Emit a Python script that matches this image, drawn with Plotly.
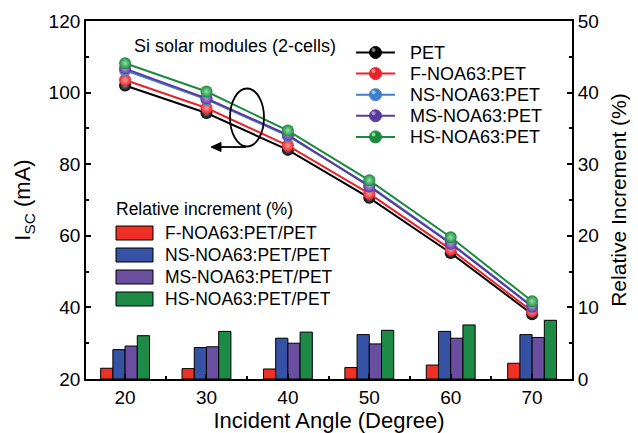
import plotly.graph_objects as go

# ---------------- data ----------------
angles = [20, 30, 40, 50, 60, 70]

line_names = ["PET", "F-NOA63:PET", "NS-NOA63:PET", "MS-NOA63:PET", "HS-NOA63:PET"]
isc_pet = [102.0, 94.3, 84.0, 70.6, 55.2, 38.1]
isc_f = [103.5, 95.7, 85.2, 71.8, 56.2, 38.9]
isc_ns = [106.2, 98.1, 87.9, 74.0, 58.0, 40.3]
isc_ms = [106.7, 98.4, 88.2, 73.8, 57.8, 40.2]
isc_hs = [108.2, 100.3, 89.4, 75.5, 59.6, 41.7]

bar_names = ["F-NOA63:PET/PET", "NS-NOA63:PET/PET", "MS-NOA63:PET/PET", "HS-NOA63:PET/PET"]
inc_f = [1.5, 1.45, 1.4, 1.6, 1.95, 2.2]
inc_ns = [4.1, 4.4, 5.7, 6.2, 6.65, 6.2]
inc_ms = [4.6, 4.5, 5.0, 4.9, 5.7, 5.8]
inc_hs = [6.05, 6.65, 6.55, 6.8, 7.55, 8.2]

x_ticks = [20, 30, 40, 50, 60, 70]
y_left_ticks = [20, 40, 60, 80, 100, 120]
y_right_ticks = [0, 10, 20, 30, 40, 50]

# ---------------- style ----------------
line_colors = ["#000000", "#e8242b", "#3f7fcc", "#5a3b9b", "#1b8a3c"]
marker_light = ["#8a8a8a", "#ff9a9a", "#a8cff5", "#b09ae0", "#8fe0a5"]
bar_colors = ["#ee3124", "#3652a5", "#6a4ea0", "#1d8a45"]
FONT = "Arial, Liberation Sans, sans-serif"

OFF = 8  # page body margin offset
W, H = 638 - OFF, 433 - OFF
L, R, T, B = 86, 572, 21, 379  # plot area in screen pixels


def px(x):
    return (x - L) / (R - L)


def py(y):
    return (B - y) / (B - T)


fig = go.Figure()

# bars (relative increment, right axis)
for name, vals, col in zip(bar_names, [inc_f, inc_ns, inc_ms, inc_hs], bar_colors):
    fig.add_trace(go.Bar(
        x=angles, y=vals, name=name, yaxis="y2",
        marker=dict(color=col, line=dict(color="black", width=1)),
        showlegend=False,
    ))

# lines (Isc, left axis)
for i, (name, vals) in enumerate(zip(line_names, [isc_pet, isc_f, isc_ns, isc_ms, isc_hs])):
    fig.add_trace(go.Scatter(
        x=angles, y=vals, name=name, mode="lines+markers", yaxis="y",
        line=dict(color=line_colors[i], width=2),
        marker=dict(size=12, color=line_colors[i],
                    gradient=dict(type="radial", color=marker_light[i]),
                    line=dict(width=0)),
        showlegend=False,
    ))

shapes = []
annotations = []

# line legend (top right)
leg_y0, leg_dy = 52.5, 21.1
for i, name in enumerate(line_names):
    y = leg_y0 + i * leg_dy
    shapes.append(dict(type="line", xref="paper", yref="paper",
                       x0=px(356), x1=px(395), y0=py(y), y1=py(y),
                       line=dict(color=line_colors[i], width=2)))
    shapes.append(dict(type="circle", xref="paper", yref="paper",
                       x0=px(369.5), x1=px(381.5), y0=py(y + 6), y1=py(y - 6),
                       fillcolor=line_colors[i], line=dict(color=line_colors[i], width=1)))
    shapes.append(dict(type="circle", xref="paper", yref="paper",
                       x0=px(371.5), x1=px(375.5), y0=py(y - 0.5), y1=py(y - 4.5),
                       fillcolor=marker_light[i], line=dict(width=0), opacity=0.9))
    annotations.append(dict(xref="paper", yref="paper", x=px(408), y=py(y),
                            xanchor="left", yanchor="middle", text=name, showarrow=False,
                            font=dict(family=FONT, size=18, color="black")))

annotations.append(dict(xref="paper", yref="paper", x=px(132), y=py(46.5),
                        xanchor="left", yanchor="middle", text="Si solar modules (2-cells)",
                        showarrow=False, font=dict(family=FONT, size=18, color="black")))

# bar legend (bottom left)
annotations.append(dict(xref="paper", yref="paper", x=px(114), y=py(209),
                        xanchor="left", yanchor="middle", text="Relative increment (%)",
                        showarrow=False, font=dict(family=FONT, size=17.5, color="black")))
bar_leg_y0, bar_leg_dy = 233, 22
for i, name in enumerate(bar_names):
    y = bar_leg_y0 + i * bar_leg_dy
    shapes.append(dict(type="rect", xref="paper", yref="paper",
                       x0=px(116), x1=px(153), y0=py(y + 7), y1=py(y - 7),
                       fillcolor=bar_colors[i], line=dict(color="black", width=1)))
    annotations.append(dict(xref="paper", yref="paper", x=px(163), y=py(y),
                            xanchor="left", yanchor="middle", text=name, showarrow=False,
                            font=dict(family=FONT, size=17.5, color="black")))

# ellipse + arrow pointing to left axis
shapes.append(dict(type="circle", xref="paper", yref="paper",
                   x0=px(230), x1=px(264), y0=py(146.5), y1=py(88.5),
                   line=dict(color="black", width=1.8)))
shapes.append(dict(type="line", xref="paper", yref="paper",
                   x0=px(246), x1=px(218), y0=py(147), y1=py(147),
                   line=dict(color="black", width=1.8)))
shapes.append(dict(type="path", xref="paper", yref="paper",
                   path="M {:.5f},{:.5f} L {:.5f},{:.5f} L {:.5f},{:.5f} Z".format(
                       px(211), py(147), px(221), py(151.5), px(221), py(142.5)),
                   fillcolor="black", line=dict(color="black", width=1)))

axis_common = dict(showline=True, linecolor="black", linewidth=1.8,
                   ticks="inside", ticklen=5, tickwidth=1.5, tickcolor="black",
                   showgrid=False, zeroline=False, automargin=False,
                   tickfont=dict(family=FONT, size=19, color="black"))

fig.update_layout(
    width=W, height=H,
    margin=dict(l=L - OFF, r=638 - R, t=T - OFF, b=433 - B, pad=0, autoexpand=False),
    paper_bgcolor="white", plot_bgcolor="white",
    barmode="group", bargap=0.4, bargroupgap=0,
    showlegend=False,
    xaxis=dict(range=[15.2, 74.9], tickvals=x_ticks, mirror=True,
               minor=dict(dtick=5, tick0=15, ticks="inside", ticklen=3, tickcolor="black"),
               title=dict(text="Incident Angle (Degree)", standoff=6,
                          font=dict(family=FONT, size=22, color="black")),
               **axis_common),
    yaxis=dict(range=[20, 120], tickvals=y_left_ticks, side="left",
               minor=dict(dtick=10, tick0=20, ticks="inside", ticklen=3, tickcolor="black"),
               title=dict(text="I<sub>SC</sub> (mA)", standoff=12,
                          font=dict(family=FONT, size=22, color="black")),
               **axis_common),
    yaxis2=dict(range=[0, 50], tickvals=y_right_ticks, side="right", overlaying="y",
                minor=dict(dtick=5, tick0=0, ticks="inside", ticklen=3, tickcolor="black"),
                title=dict(text="Relative Increment (%)", standoff=13,
                           font=dict(family=FONT, size=21, color="black")),
                **axis_common),
    shapes=shapes,
    annotations=annotations,
)

fig.write_html("out.html")
